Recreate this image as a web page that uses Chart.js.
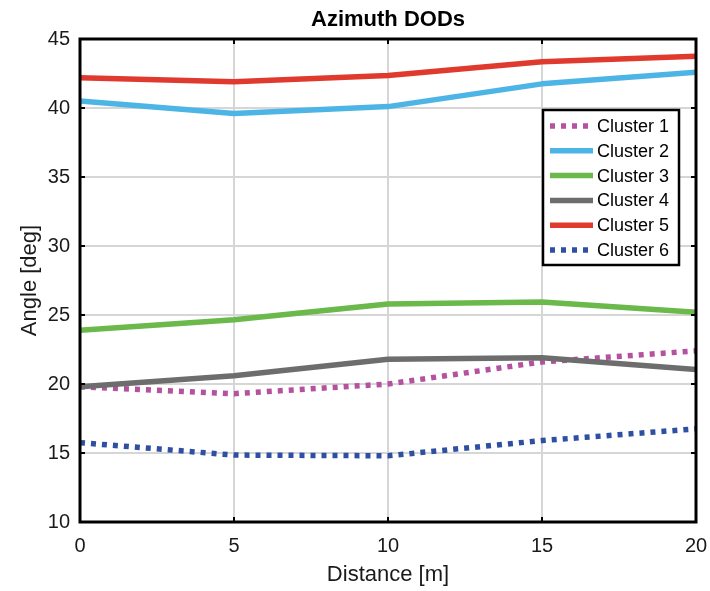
<!DOCTYPE html>
<html>
<head>
<meta charset="utf-8">
<title>Azimuth DODs</title>
<script src="https://cdn.jsdelivr.net/npm/chart.js@4/dist/chart.umd.min.js"></script>
<style>
  html, body { margin: 0; padding: 0; background: #ffffff; }
  #wrap { width: 710px; height: 591px; }
</style>
</head>
<body>
<div id="wrap"><canvas id="chart" width="710" height="591"></canvas></div>
<script>
// Distance along the route, metres
const distances = [0, 5, 10, 15, 20];
// Azimuth angle of departure per cluster, degrees
const cluster1 = [19.8, 19.3, 20.0, 21.6, 22.4];
const cluster2 = [40.5, 39.6, 40.1, 41.75, 42.6];
const cluster3 = [23.9, 24.65, 25.8, 25.95, 25.2];
const cluster4 = [19.8, 20.6, 21.8, 21.9, 21.05];
const cluster5 = [42.2, 41.9, 42.35, 43.35, 43.75];
const cluster6 = [15.75, 14.85, 14.8, 15.9, 16.75];
const seriesNames = ['Cluster 1', 'Cluster 2', 'Cluster 3', 'Cluster 4', 'Cluster 5', 'Cluster 6'];
const xTicks = [0, 5, 10, 15, 20];
const yTicks = [10, 15, 20, 25, 30, 35, 40, 45];

const FONT = "'Liberation Sans', Arial, Helvetica, sans-serif";
const seriesValues = [cluster1, cluster2, cluster3, cluster4, cluster5, cluster6];
const seriesColors = ['#b5529f', '#4db5e6', '#6bb84b', '#6d6d6d', '#e03a2f', '#2f50a2'];
const seriesDashed = [true, false, false, false, false, true];

const datasets = seriesValues.map((vals, i) => ({
  label: seriesNames[i],
  data: vals.map((v, k) => ({ x: distances[k], y: v })),
  borderColor: seriesColors[i],
  backgroundColor: seriesColors[i],
  borderWidth: 5.5,
  borderDash: seriesDashed[i] ? [5, 6] : [],
  borderCapStyle: 'butt',
  borderJoinStyle: 'round',
  pointRadius: 0,
  pointHoverRadius: 0,
  tension: 0,
  fill: false,
  order: seriesValues.length - i
}));

// Box frame, inward tick marks on all four sides, and a boxed legend inside the plot
const frameAndLegend = {
  id: 'frameAndLegend',
  afterDraw(chart) {
    const { ctx, chartArea: a, scales } = chart;
    ctx.save();
    ctx.strokeStyle = '#000000';
    ctx.lineWidth = 2;
    const tl = 5;
    xTicks.forEach(v => {
      const px = scales.x.getPixelForValue(v);
      ctx.beginPath();
      ctx.moveTo(px, a.bottom); ctx.lineTo(px, a.bottom - tl);
      ctx.moveTo(px, a.top); ctx.lineTo(px, a.top + tl);
      ctx.stroke();
    });
    yTicks.forEach(v => {
      const py = scales.y.getPixelForValue(v);
      ctx.beginPath();
      ctx.moveTo(a.left, py); ctx.lineTo(a.left + tl, py);
      ctx.moveTo(a.right, py); ctx.lineTo(a.right - tl, py);
      ctx.stroke();
    });
    ctx.lineWidth = 3;
    ctx.strokeRect(a.left, a.top, a.right - a.left, a.bottom - a.top);

    // legend
    const box = { left: 543, top: 110, right: 679, bottom: 265 };
    ctx.fillStyle = '#ffffff';
    ctx.fillRect(box.left, box.top, box.right - box.left, box.bottom - box.top);
    ctx.lineWidth = 2.5;
    ctx.strokeStyle = '#000000';
    ctx.strokeRect(box.left, box.top, box.right - box.left, box.bottom - box.top);
    ctx.font = '18px ' + FONT;
    ctx.textBaseline = 'middle';
    ctx.textAlign = 'left';
    chart.data.datasets.forEach((ds, i) => {
      const y = 126 + i * 24.8;
      ctx.beginPath();
      ctx.strokeStyle = ds.borderColor;
      ctx.lineWidth = ds.borderWidth;
      ctx.lineCap = 'butt';
      ctx.setLineDash(ds.borderDash);
      ctx.moveTo(550, y);
      ctx.lineTo(593, y);
      ctx.stroke();
      ctx.setLineDash([]);
      ctx.fillStyle = '#000000';
      ctx.fillText(ds.label, 597, y + 1);
    });
    ctx.restore();
  }
};

new Chart(document.getElementById('chart'), {
  type: 'line',
  data: { datasets },
  options: {
    responsive: false,
    animation: false,
    devicePixelRatio: 1,
    layout: { padding: { left: 0, right: 14, top: 0, bottom: 0 } },
    plugins: {
      legend: { display: false },
      tooltip: { enabled: false },
      title: {
        display: true,
        fullSize: false,
        text: 'Azimuth DODs',
        color: '#000000',
        font: { family: FONT, size: 22, weight: 'bold', lineHeight: '26px' },
        padding: { top: 7, bottom: 6 }
      }
    },
    scales: {
      x: {
        type: 'linear',
        min: 0,
        max: 20,
        afterFit(scale) {
          scale.height = 69;
          scale.paddingLeft = 0;
          scale.paddingRight = 0;
        },
        afterBuildTicks(scale) { scale.ticks = xTicks.map(v => ({ value: v })); },
        grid: { color: '#d6d6d6', lineWidth: 2, drawTicks: false },
        border: { display: false },
        ticks: { color: '#1a1a1a', font: { family: FONT, size: 20 }, padding: 12, maxRotation: 0 },
        title: {
          display: true,
          text: 'Distance [m]',
          color: '#1a1a1a',
          font: { family: FONT, size: 22, lineHeight: '26px' },
          padding: { top: 0, bottom: 3 }
        }
      },
      y: {
        type: 'linear',
        min: 10,
        max: 45,
        afterFit(scale) {
          scale.width = 80;
          scale.paddingTop = 0;
          scale.paddingBottom = 0;
        },
        afterBuildTicks(scale) { scale.ticks = yTicks.map(v => ({ value: v })); },
        grid: { color: '#d6d6d6', lineWidth: 2, drawTicks: false },
        border: { display: false },
        ticks: { color: '#1a1a1a', font: { family: FONT, size: 20 }, padding: 10 },
        title: {
          display: true,
          text: 'Angle [deg]',
          color: '#1a1a1a',
          font: { family: FONT, size: 22, lineHeight: '26px' },
          padding: { top: 17, bottom: 0 }
        }
      }
    }
  },
  plugins: [frameAndLegend]
});
</script>
</body>
</html>
